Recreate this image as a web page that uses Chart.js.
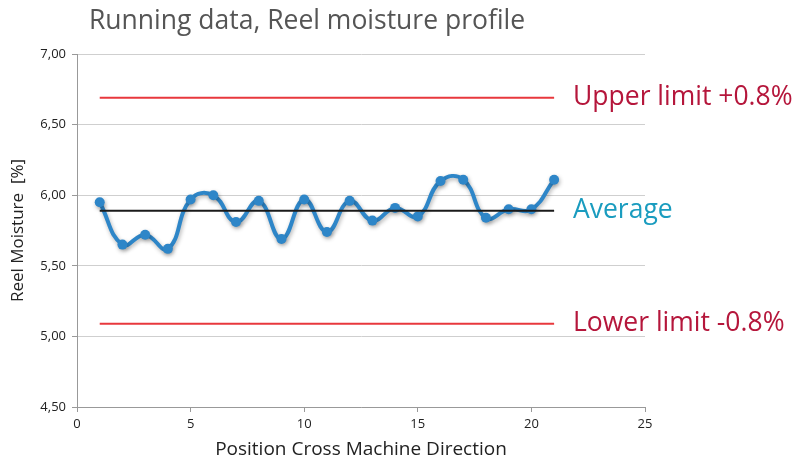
<!DOCTYPE html>
<html>
<head>
<meta charset="utf-8">
<script src="https://cdn.jsdelivr.net/npm/chart.js@4"></script>
<style>
  html, body { margin: 0; padding: 0; background: #fff; }
  #wrap { width: 801px; height: 465px; }
</style>
</head>
<body>
<div id="wrap"><canvas id="chart" width="801" height="465"></canvas></div>
<script>
// --- Data ---
const positions = [1, 2, 3, 4, 5, 6, 7, 8, 9, 10, 11, 12, 13, 14, 15, 16, 17, 18, 19, 20, 21];
const moisture = [5.95, 5.65, 5.72, 5.62, 5.97, 6.00, 5.81, 5.96, 5.69, 5.97, 5.74, 5.96, 5.82, 5.91, 5.85, 6.10, 6.11, 5.84, 5.90, 5.90, 6.11];
const averageValue = 5.89;
const upperLimit = 6.69;
const lowerLimit = 5.09;
const limitRange = [1, 21];
const xTicks = [0, 5, 10, 15, 20, 25];
const yTicks = [4.5, 5.0, 5.5, 6.0, 6.5, 7.0];

const points = positions.map((p, i) => ({ x: p, y: moisture[i] }));
const flat = v => limitRange.map(x => ({ x, y: v }));

// --- Title + right side labels ---
const labelsPlugin = {
  id: 'sideLabels',
  afterDraw(chart) {
    const { ctx, chartArea, scales } = chart;
    ctx.save();
    ctx.textBaseline = 'middle';
    ctx.fillStyle = '#555';
    ctx.font = '26.5px "Open Sans", sans-serif';
    ctx.fillText('Running data, Reel moisture profile', 89, 21);

    ctx.font = '26.5px "Open Sans", sans-serif';
    const lx = chartArea.right - 72;
    ctx.fillStyle = '#b5163b';
    ctx.fillText('Upper limit +0.8%', lx, scales.y.getPixelForValue(upperLimit));
    ctx.fillText('Lower limit -0.8%', lx, scales.y.getPixelForValue(lowerLimit));
    ctx.fillStyle = '#1a9cbf';
    ctx.fillText('Average', lx, scales.y.getPixelForValue(averageValue));
    ctx.restore();
  }
};

// --- Shadow under the data line ---
const shadowPlugin = {
  id: 'lineShadow',
  beforeDatasetDraw(chart, args) {
    if (args.index !== 3) return;
    const ctx = chart.ctx;
    ctx.save();
    ctx.shadowColor = 'rgba(0,0,0,0.3)';
    ctx.shadowBlur = 4;
    ctx.shadowOffsetX = 1;
    ctx.shadowOffsetY = 2;
  },
  afterDatasetDraw(chart, args) {
    if (args.index !== 3) return;
    chart.ctx.restore();
  }
};

const tickFont = { family: '"Liberation Sans Narrow", "Open Sans", sans-serif', size: 13 };

new Chart(document.getElementById('chart'), {
  type: 'scatter',
  data: {
    datasets: [
      { data: flat(upperLimit), showLine: true, borderColor: '#e8383d', borderWidth: 2, pointRadius: 0 },
      { data: flat(lowerLimit), showLine: true, borderColor: '#e8383d', borderWidth: 2, pointRadius: 0 },
      { data: flat(averageValue), showLine: true, borderColor: '#1a1a1a', borderWidth: 2, pointRadius: 0 },
      {
        data: points, showLine: true, borderColor: '#2e86c8', borderWidth: 4,
        tension: 0.45, pointRadius: 5, pointBorderWidth: 0,
        pointBackgroundColor: '#2e86c8', pointBorderColor: '#2e86c8'
      }
    ]
  },
  options: {
    responsive: false,
    animation: false,
    layout: { padding: { top: 54, right: 156, left: 0, bottom: 0 } },
    plugins: { legend: { display: false }, tooltip: { enabled: false } },
    scales: {
      x: {
        type: 'linear', min: 0, max: 25,
        afterBuildTicks: axis => { axis.ticks = xTicks.map(v => ({ value: v })); },
        afterFit: axis => { axis.height = 58; },
        grid: { drawOnChartArea: false, drawTicks: true, tickLength: 5, color: '#999' },
        border: { color: '#999' },
        ticks: { color: '#222', font: tickFont, padding: 4 },
        title: { display: true, text: 'Position Cross Machine Direction', color: '#222',
                 font: { family: '"Open Sans", sans-serif', size: 19 }, padding: { top: 4 } }
      },
      y: {
        type: 'linear', min: 4.5, max: 7.0,
        afterBuildTicks: axis => { axis.ticks = yTicks.map(v => ({ value: v })); },
        afterFit: axis => { axis.width = 77; },
        grid: { color: '#cfcfcf', tickLength: 5, tickColor: '#999' },
        border: { color: '#999' },
        ticks: { color: '#222', font: tickFont, padding: 6,
                 callback: v => v.toFixed(2).replace('.', ',') },
        title: { display: true, text: 'Reel Moisture  [%]', color: '#222',
                 font: { family: '"Open Sans", sans-serif', size: 17 }, padding: { top: 8, bottom: 4 } }
      }
    }
  },
  plugins: [labelsPlugin, shadowPlugin]
});
</script>
</body>
</html>
